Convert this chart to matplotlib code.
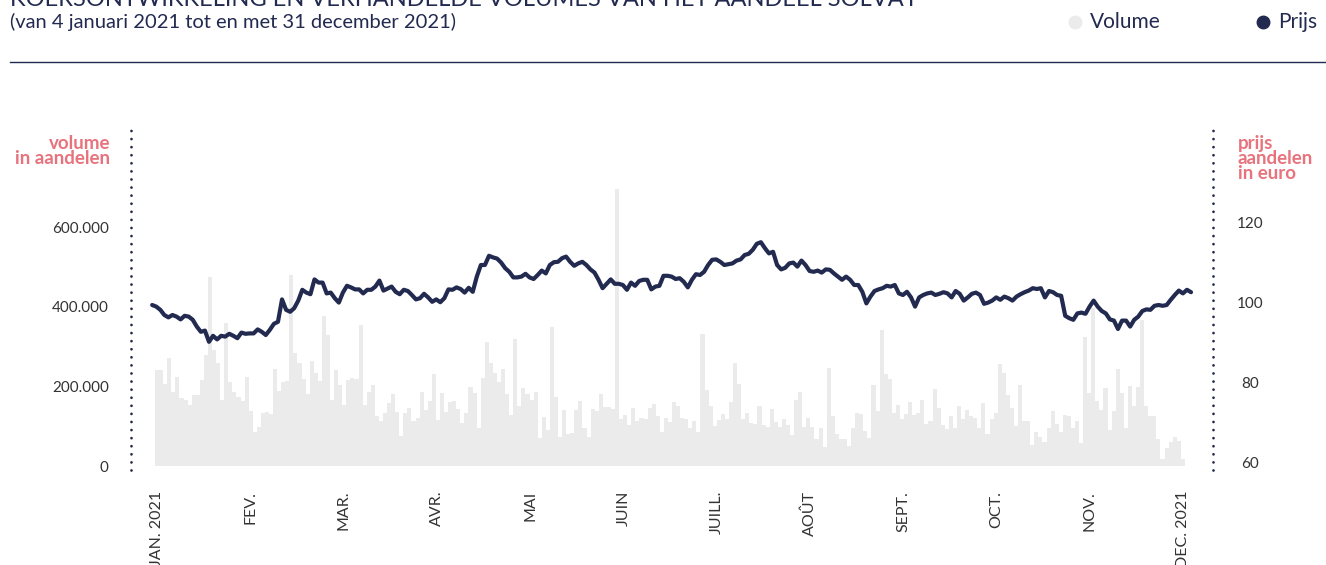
import numpy as np
from matplotlib import pyplot as plt

# daily traded volume (thousands of shares), 4 jan - 31 dec 2021
volume_k = [
    242, 242, 206, 271, 185, 223, 170, 166, 153, 179,
    179, 216, 278, 476, 292, 258, 166, 359, 212, 187,
    174, 164, 225, 139, 86, 99, 133, 135, 130, 244,
    189, 212, 214, 481, 283, 258, 219, 181, 264, 235,
    214, 377, 330, 166, 242, 204, 153, 216, 222, 219,
    354, 153, 185, 204, 127, 114, 133, 159, 181, 136,
    75, 133, 145, 112, 122,
    185, 141, 164, 231, 116, 183, 137, 162, 164, 143,
    109, 133, 198, 184, 95, 221, 313, 258, 235, 212,
    244, 180, 128, 320, 151, 195, 180, 166, 185, 71,
    124, 91, 349, 174, 74, 141, 81, 82, 141, 164,
    95, 72, 143, 139, 181, 149, 148, 144, 696, 117,
    128, 103, 147, 112, 120, 118, 145, 156, 127, 85,
    122, 110, 162, 152,
    120, 117, 95, 114, 86, 332, 190, 151, 101, 116,
    131, 118, 162, 260, 206, 118, 133, 109, 105, 152,
    103, 97, 143, 110, 97, 119, 103, 78, 166, 187,
    99, 122, 99, 67, 95, 49, 246, 126, 81, 69,
    67, 51, 95, 133, 130, 89, 70, 204, 139, 342,
    231, 219, 133, 153, 117, 130, 162, 128, 133, 166,
    105, 112, 194, 147,
    103, 92, 127, 95, 151, 117, 141, 127, 120, 95,
    158, 80, 118, 133, 256, 233, 179, 147, 101, 204,
    114, 112, 53, 86, 72, 61, 95, 138, 105, 86,
    128, 126, 95, 112, 59, 324, 184, 397, 164, 141,
    195, 91, 138, 243, 183, 95, 202, 151, 198, 367,
    151, 126, 126, 68, 17, 46, 60, 74, 63, 17,
]

# closing price in euro
price = [
    99.5, 99.1, 98.3, 97.0, 96.4, 97.0, 96.6, 95.9, 96.8, 96.6,
    95.8, 94.1, 92.8, 93.1, 90.3, 91.8, 90.9, 91.8, 91.6, 92.3,
    91.8, 91.2, 92.6, 92.3, 92.4, 92.4, 93.4, 92.8, 92.0, 93.3,
    94.8, 95.3, 100.9, 98.3, 97.8, 98.7, 100.6, 103.3, 102.6, 102.2,
    105.9, 105.1, 105.1, 102.4, 102.6, 101.2, 100.1, 102.6, 104.3, 103.9,
    103.4, 103.4, 102.4, 103.3, 103.3, 104.1, 105.6, 103.1, 103.6, 104.1,
    102.8, 102.2, 103.3, 103.0, 102.0, 100.9,
    101.2, 102.3, 101.4, 100.3, 100.9, 100.2, 101.2, 103.4, 103.3, 103.9,
    103.5, 102.6, 103.8, 102.8, 106.6, 109.5, 109.5, 111.8, 111.4, 111.1,
    110.1, 108.7, 107.8, 106.4, 106.4, 106.6, 107.3, 106.4, 106.0, 107.0,
    108.1, 107.4, 109.5, 110.2, 110.3, 111.2, 111.6, 110.3, 109.3, 109.9,
    110.3, 109.5, 108.4, 107.6, 105.8, 103.7, 104.8, 105.9, 104.8, 104.8,
    104.5, 103.3, 105.1, 104.3, 105.5, 105.8, 105.8, 103.4, 104.1, 104.3,
    106.8, 106.8, 106.6, 106.0,
    106.2, 105.3, 103.9, 105.8, 107.2, 107.0, 107.8, 109.5, 110.8, 110.9,
    110.3, 109.5, 109.7, 109.9, 110.6, 110.9, 112.0, 112.3, 113.3, 114.8,
    115.2, 113.7, 112.4, 112.8, 109.5, 108.4, 108.8, 109.9, 110.1, 109.1,
    110.6, 109.5, 108.0, 107.8, 108.1, 107.6, 108.4, 108.3, 107.4, 106.6,
    105.8, 106.6, 105.8, 104.5, 104.5, 102.8, 99.9, 101.6, 103.0, 103.4,
    103.7, 104.3, 104.1, 104.5, 102.4, 102.0, 102.8, 101.4, 99.1, 101.4,
    102.0, 102.4, 102.6, 102.0,
    102.3, 102.7, 102.4, 101.4, 103.0, 102.3, 100.6, 101.4, 102.3, 102.6,
    102.0, 99.8, 100.1, 100.6, 101.4, 100.8, 101.6, 101.2, 100.6, 101.6,
    102.2, 102.7, 103.1, 103.7, 103.5, 103.7, 101.4, 103.0, 102.7, 102.0,
    101.8, 96.8, 96.2, 95.8, 97.4, 97.6, 97.3, 99.1, 100.6, 99.1,
    98.0, 97.4, 95.9, 95.6, 93.5, 95.6, 95.6, 94.1, 95.8, 96.6,
    98.0, 98.4, 98.3, 99.3, 99.5, 99.3, 99.5, 100.8, 102.0, 103.1,
    102.4, 103.3, 102.7,
]

months = ["JAN. 2021", "FEV.", "MAR.", "AVR.", "MAI", "JUIN",
          "JUILL.", "AOÛT", "SEPT.", "OCT.", "NOV.", "DEC. 2021"]

vol_ticks = [0, 200000, 400000, 600000]
vol_tick_labels = ["0", "200.000", "400.000", "600.000"]
price_ticks = [60, 80, 100, 120]

NAVY = "#222a50"
PINK = "#e8737d"
GREY = "#ebebeb"
TXT = "#333333"

plt.rcParams['font.family'] = ['Lato', 'DejaVu Sans']

W, H = 1326, 565
fig = plt.figure(figsize=(W / 100, H / 100), dpi=100)

# header (title is cut by the top edge, as in the original)
fig.text(10 / W, 1 - 6 / H, "KOERSONTWIKKELING EN VERHANDELDE VOLUMES VAN HET AANDEEL SOLVAY",
         fontsize=17, color=NAVY, va='baseline', ha='left')
fig.text(10 / W, 1 - 22 / H, "(van 4 januari 2021 tot en met 31 december 2021)",
         fontsize=14.5, color=NAVY, va='center', ha='left')
fig.add_artist(plt.Line2D([10 / W, 1.0], [1 - 62 / H, 1 - 62 / H], color=NAVY, lw=1))

# legend
fig.add_artist(plt.Line2D([1075 / W], [1 - 22 / H], marker='o', ms=9, color=GREY, lw=0))
fig.text(1090 / W, 1 - 22 / H, "Volume", fontsize=15, color=NAVY, va='center')
fig.add_artist(plt.Line2D([1263 / W], [1 - 22 / H], marker='o', ms=9, color=NAVY, lw=0))
fig.text(1278 / W, 1 - 22 / H, "Prijs", fontsize=15, color=NAVY, va='center')

left, right, top, bottom = 131, 1213, 128, 470
ax = fig.add_axes([left / W, 1 - bottom / H, (right - left) / W, (bottom - top) / H])
ax2 = ax.twinx()

n = len(volume_k)
x = np.arange(n)
ax.bar(x, np.array(volume_k) * 1000, width=1.0, color=GREY, linewidth=0)

xp = np.linspace(-1.2, n + 1, len(price))
ax2.plot(xp, price, color=NAVY, lw=3, solid_joinstyle='round', solid_capstyle='round')

ax.set_xlim(-6.4, n + 6.4)
ax.set_ylim(-10000, 850000)
ax2.set_ylim(58.25, 143.75)

ax.set_yticks(vol_ticks)
ax.set_yticklabels(vol_tick_labels)
ax2.set_yticks(price_ticks)
ax2.set_yticklabels([str(p) for p in price_ticks])
ax.tick_params(axis='y', length=0, pad=16, labelsize=11, labelcolor=TXT)
ax2.tick_params(axis='y', length=0, pad=27, labelsize=11, labelcolor=TXT)
for lab in ax2.get_yticklabels():
    lab.set_ha('center')

ax.set_xticks(np.linspace(0, n - 1, len(months)))
ax.set_xticklabels(months, rotation=90, va='top', ha='center')
ax.tick_params(axis='x', length=0, pad=15, labelsize=11.5, labelcolor=TXT)

for a in (ax, ax2):
    a.spines['top'].set_visible(False)
    a.spines['bottom'].set_visible(False)
    for side in ('left', 'right'):
        sp = a.spines[side]
        sp.set_color(NAVY)
        sp.set_linewidth(2)
        sp.set_linestyle((0, (0.01, 2.9)))
        sp.set_capstyle('round')
ax.spines['right'].set_visible(False)
ax2.spines['left'].set_visible(False)
ax.set_zorder(1)
ax2.set_zorder(2)
ax2.patch.set_visible(False)

fig.text(110 / W, 1 - 135 / H, "volume\nin aandelen", fontsize=13.5, fontweight='bold',
         color=PINK, ha='right', va='top', linespacing=0.85, multialignment='right')
fig.text(1238 / W, 1 - 135 / H, "prijs\naandelen\nin euro", fontsize=13.5, fontweight='bold',
         color=PINK, ha='left', va='top', linespacing=0.85)

fig.savefig("out.png", dpi=100)
